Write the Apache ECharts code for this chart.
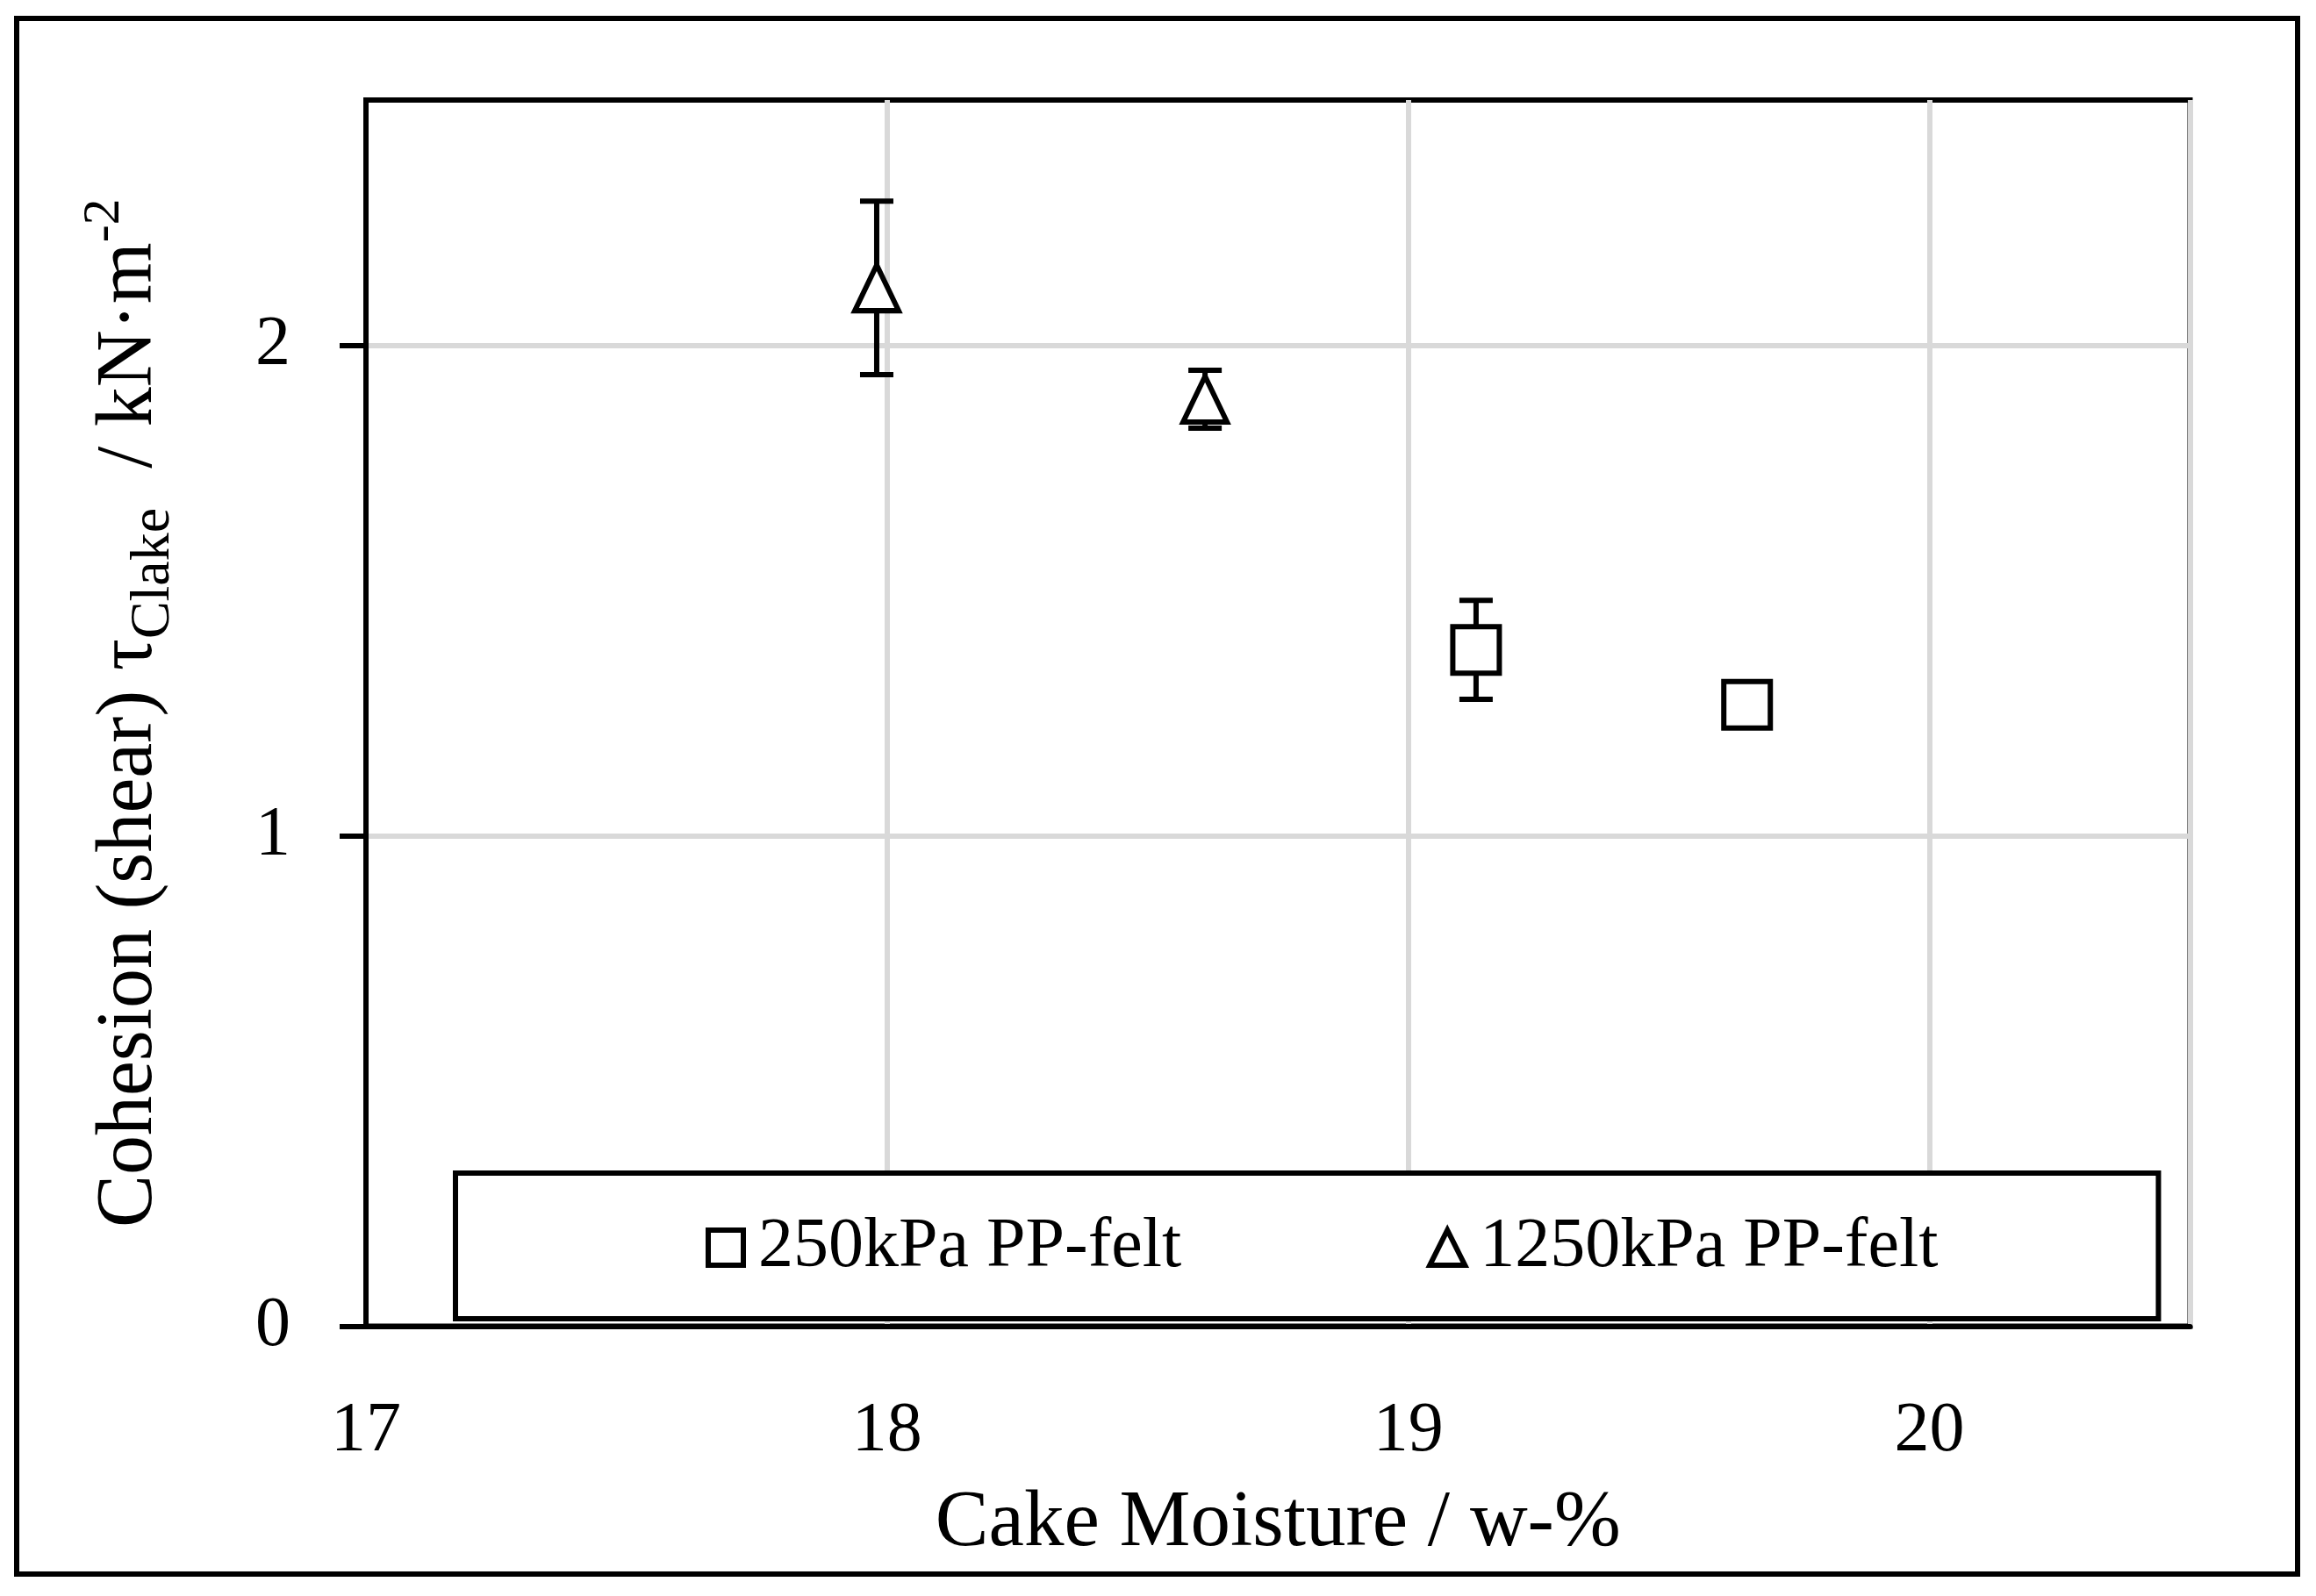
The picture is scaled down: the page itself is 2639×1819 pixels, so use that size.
<!DOCTYPE html>
<html>
<head>
<meta charset="utf-8">
<title>Cohesion vs cake moisture</title>
<script src="https://cdn.jsdelivr.net/npm/echarts@6/dist/echarts.min.js"></script>
<style>
  html, body { margin: 0; padding: 0; background: #fff; }
  #chart { width: 2639px; height: 1819px; }
</style>
</head>
<body>
<div id="chart"></div>
<script>
// data
var xTicks = [17, 18, 19, 20];
var yTicks = [0, 1, 2];

var name250 = '250kPa PP-felt';
var moisture250 = [19.13, 19.65];
var cohesion250 = [1.379, 1.267];
var err250 = [0.101, 0];

var name1250 = '1250kPa PP-felt';
var moisture1250 = [17.98, 18.61];
var cohesion1250 = [2.117, 1.89];
var err1250 = [0.177, 0.059];

var FONT = 'Liberation Serif';

function points(xs, ys) {
    return xs.map(function (x, i) { return [x, ys[i]]; });
}
function errPoints(xs, ys, es) {
    return xs.map(function (x, i) { return [x, ys[i], es[i]]; });
}

// 误差线
function renderErr(params, api) {
    var x = api.value(0), y = api.value(1), e = api.value(2);
    if (!e) return;
    var top = api.coord([x, y + e]);
    var bot = api.coord([x, y - e]);
    var half = 19;
    var style = { stroke: '#000', lineWidth: 6, fill: null };
    return {
        type: 'group',
        children: [
            { type: 'line', shape: { x1: top[0], y1: top[1], x2: bot[0], y2: bot[1] }, style: style },
            { type: 'line', shape: { x1: top[0] - half, y1: top[1], x2: top[0] + half, y2: top[1] }, style: style },
            { type: 'line', shape: { x1: bot[0] - half, y1: bot[1], x2: bot[0] + half, y2: bot[1] }, style: style }
        ]
    };
}

var chart = echarts.init(document.getElementById('chart'), null, { renderer: 'canvas' });

chart.setOption({
    backgroundColor: '#fff',
    animation: false,
    textStyle: { fontFamily: FONT, color: '#000' },
    graphic: [{
        type: 'rect',
        shape: { x: 19, y: 21, width: 2599, height: 1773 },
        style: { fill: null, stroke: '#000', lineWidth: 6 },
        silent: true
    }],
    grid: {
        left: 417, right: 143.5, top: 114, bottom: 307.5,
        show: true, borderColor: '#000', borderWidth: 6, backgroundColor: 'transparent'
    },
    legend: {
        data: [name250, name1250],
        left: 519,
        top: 1337,
        orient: 'horizontal',
        itemWidth: 40,
        itemHeight: 40,
        itemGap: 280,
        padding: [45, 251, 41, 285],
        borderColor: '#000',
        borderWidth: 6,
        backgroundColor: '#fff',
        itemStyle: { color: '#fff', borderColor: '#000', borderWidth: 6 },
        textStyle: { fontFamily: FONT, fontSize: 80, color: '#000', padding: [0, 0, 0, 12] }
    },
    xAxis: {
        type: 'value',
        min: 17,
        max: 20.5,
        interval: 1,
        name: 'Cake Moisture / w-%',
        nameLocation: 'middle',
        nameGap: 180,
        nameTextStyle: { fontFamily: FONT, fontSize: 91, color: '#000' },
        axisLine: { show: true, lineStyle: { color: '#000', width: 6 } },
        axisTick: { show: false },
        axisLabel: {
            customValues: xTicks,
            margin: 80,
            fontFamily: FONT, fontSize: 80, color: '#000'
        },
        splitLine: { show: true, lineStyle: { color: '#d9d9d9', width: 6 } }
    },
    yAxis: {
        type: 'value',
        min: 0,
        max: 2.5,
        interval: 1,
        name: '{m|Cohesion (shear) τ}{s|Clake}{m|  / kN·m}{p|-2}',
        nameLocation: 'middle',
        nameRotate: 90,
        nameGap: 210,
        nameTextStyle: {
            fontFamily: FONT, color: '#000',
            rich: {
                m: { fontFamily: FONT, fontSize: 90, lineHeight: 118, color: '#000' },
                s: { fontFamily: FONT, fontSize: 64, lineHeight: 48, verticalAlign: 'bottom', color: '#000' },
                p: { fontFamily: FONT, fontSize: 60, lineHeight: 86, verticalAlign: 'top', color: '#000' }
            }
        },
        axisLine: { show: true, lineStyle: { color: '#000', width: 6 } },
        axisTick: {
            show: true, inside: false, length: 30,
            customValues: yTicks,
            lineStyle: { color: '#000', width: 6 }
        },
        axisLabel: {
            customValues: yTicks,
            margin: 86,
            fontFamily: FONT, fontSize: 80, color: '#000'
        },
        splitLine: { show: true, lineStyle: { color: '#d9d9d9', width: 6 } }
    },
    series: [
        {
            name: 'err250',
            type: 'custom',
            renderItem: renderErr,
            data: errPoints(moisture250, cohesion250, err250),
            encode: { x: 0, y: 1 },
            z: 2,
            silent: true
        },
        {
            name: 'err1250',
            type: 'custom',
            renderItem: renderErr,
            data: errPoints(moisture1250, cohesion1250, err1250),
            encode: { x: 0, y: 1 },
            z: 2,
            silent: true
        },
        {
            name: name250,
            type: 'scatter',
            symbol: 'rect',
            symbolSize: 53,
            data: points(moisture250, cohesion250),
            itemStyle: { color: '#fff', borderColor: '#000', borderWidth: 6, opacity: 1 },
            z: 3
        },
        {
            name: name1250,
            type: 'scatter',
            symbol: 'triangle',
            symbolSize: [50, 52],
            data: points(moisture1250, cohesion1250),
            itemStyle: { color: '#fff', borderColor: '#000', borderWidth: 6, opacity: 1 },
            z: 3
        }
    ]
});
</script>
</body>
</html>
